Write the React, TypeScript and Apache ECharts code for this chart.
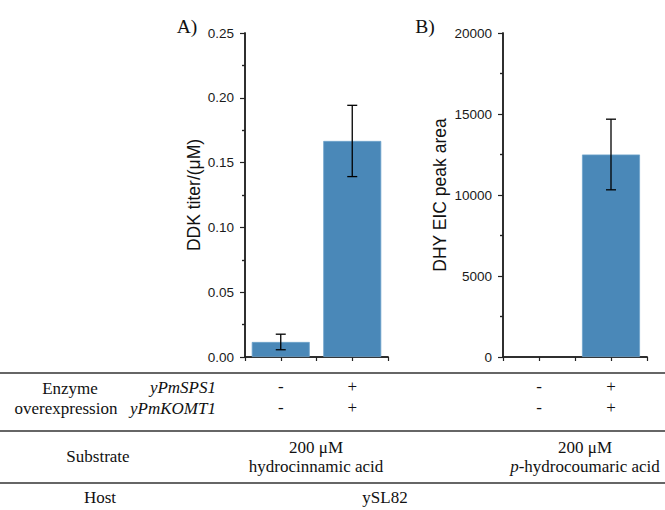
import React, { useEffect, useRef } from 'react';
import * as echarts from 'echarts';

// ---- data ----
const categories = ['control', 'yPmSPS1 + yPmKOMT1'];
const sps1Row = ['-', '+'];
const komt1Row = ['-', '+'];
const ddkTiter = [0.0116, 0.1667];
const ddkErr = [0.006, 0.0275];
const dhyArea = [0, 12500];
const dhyErr = [0, 2180];
const yTicksA = { min: 0, max: 0.25, interval: 0.05 };
const yTicksB = { min: 0, max: 20000, interval: 5000 };

const AXIS_COLOR = '#222';
const BAR_COLOR = '#4a88b8';
const SANS = 'Liberation Sans, Arial, sans-serif';
const SERIF = 'Liberation Serif, Times New Roman, serif';

const catPos = (i: number) => i + 0.5;

function buildAxes(grid: number, yName: string, ticks: { min: number; max: number; interval: number }, nameGap: number, fmt: (v: number) => string) {
  const line = { show: true, lineStyle: { color: AXIS_COLOR, width: 1.5 } };
  const xBottom = {
    type: 'value', gridIndex: grid, min: 0, max: categories.length, interval: 0.5,
    axisLine: line,
    axisTick: { show: true, length: 4, lineStyle: { color: AXIS_COLOR, width: 1.2 } },
    axisLabel: {
      show: true, margin: 19, fontFamily: SERIF, fontSize: 17, lineHeight: 21, color: '#111',
      formatter: (v: number) => {
        const i = categories.findIndex((_, k) => Math.abs(catPos(k) - v) < 1e-6);
        return i >= 0 ? `${sps1Row[i]}\n${komt1Row[i]}` : '';
      },
    },
    splitLine: { show: false },
  };
  const xTop = {
    type: 'value', gridIndex: grid, position: 'top', min: 0, max: categories.length,
    axisLine: line, axisTick: { show: false }, axisLabel: { show: false }, splitLine: { show: false },
  };
  const yLeft = {
    type: 'value', gridIndex: grid, ...ticks,
    axisLine: line,
    axisTick: { show: true, length: 5, lineStyle: { color: AXIS_COLOR, width: 1.2 } },
    minorTick: { show: true, splitNumber: 2, length: 3, lineStyle: { color: AXIS_COLOR, width: 1.2 } },
    axisLabel: { margin: 11, fontFamily: SANS, fontSize: 13.5, color: '#1a1a1a', formatter: fmt },
    splitLine: { show: false }, minorSplitLine: { show: false },
    name: yName, nameLocation: 'middle', nameGap,
    nameTextStyle: { fontFamily: SANS, fontSize: 17.5, color: '#111' },
  };
  const yRight = {
    type: 'value', gridIndex: grid, position: 'right', ...ticks,
    axisLine: line,
    axisTick: { show: false, inside: true },
    minorTick: { show: true, splitNumber: 2, length: 3, lineStyle: { color: AXIS_COLOR, width: 1.2 } },
    axisLabel: { show: false }, splitLine: { show: false }, minorSplitLine: { show: false },
  };
  return { x: [xBottom, xTop], y: [yLeft, yRight] };
}

function errorSeries(xAxisIndex: number, yAxisIndex: number, vals: number[], errs: number[]) {
  const data = vals
    .map((v, i) => [catPos(i), v - errs[i], v + errs[i], errs[i]])
    .filter((d) => d[3] > 0);
  return {
    type: 'custom', xAxisIndex, yAxisIndex, data, z: 5,
    encode: { x: 0, y: [1, 2] },
    renderItem: (_p: any, api: any) => {
      const x = api.value(0);
      const lo = api.coord([x, api.value(1)]);
      const hi = api.coord([x, api.value(2)]);
      const w = 5;
      const style = { stroke: '#000', lineWidth: 1.3 };
      return {
        type: 'group',
        children: [
          { type: 'line', shape: { x1: lo[0], y1: lo[1], x2: hi[0], y2: hi[1] }, style },
          { type: 'line', shape: { x1: hi[0] - w, y1: hi[1], x2: hi[0] + w, y2: hi[1] }, style },
          { type: 'line', shape: { x1: lo[0] - w, y1: lo[1], x2: lo[0] + w, y2: lo[1] }, style },
        ],
      };
    },
  };
}

export default function App() {
  const ref = useRef<HTMLDivElement>(null);
  useEffect(() => {
    document.body.style.margin = '0';
    if (!ref.current) return;
    const chart = echarts.init(ref.current, undefined, { renderer: 'svg' });
    const a = buildAxes(0, 'DDK titer/(μM)', yTicksA, 42, (v) => v.toFixed(2));
    const b = buildAxes(1, 'DHY EIC peak area', yTicksB, 54, (v) => String(v));
    const barCommon = { type: 'bar', barWidth: 58, itemStyle: { color: BAR_COLOR, borderColor: '#6fa3cc', borderWidth: 0.8 }, z: 2 };

    const txt = (x: number, y: number, text: string, extra: any = {}) => ({
      type: 'text', x, y,
      style: { text, fontFamily: SERIF, fontSize: 17, fill: '#111', align: 'center', verticalAlign: 'middle', ...extra },
    });
    const hline = (y: number) => ({
      type: 'line', shape: { x1: 0, y1: y, x2: 665, y2: y }, style: { stroke: '#333', lineWidth: 1.6 },
    });

    chart.setOption({
      animation: false,
      grid: [
        { left: 245, top: 33, width: 143, height: 324 },
        { left: 503, top: 33, width: 144, height: 324 },
      ],
      xAxis: [...a.x, ...b.x],
      yAxis: [...a.y, ...b.y],
      series: [
        { ...barCommon, xAxisIndex: 0, yAxisIndex: 0, data: ddkTiter.map((v, i) => [catPos(i), v]) },
        errorSeries(0, 0, ddkTiter, ddkErr),
        { ...barCommon, xAxisIndex: 2, yAxisIndex: 2, data: dhyArea.map((v, i) => [catPos(i), v]).filter((d) => d[1] > 0) },
        errorSeries(2, 2, dhyArea, dhyErr),
      ],
      graphic: [
        txt(187, 26, 'A)', { fontSize: 19.5 }),
        txt(425, 26, 'B)', { fontSize: 19.5 }),
        hline(373), hline(431), hline(483),
        txt(70, 388, 'Enzyme'),
        txt(66, 408, 'overexpression'),
        txt(216, 387, 'yPmSPS1', { fontStyle: 'italic', align: 'right' }),
        txt(216, 408, 'yPmKOMT1', { fontStyle: 'italic', align: 'right' }),
        txt(98, 456, 'Substrate'),
        txt(316, 447, '200 μM'),
        txt(316, 466, 'hydrocinnamic acid'),
        txt(585, 447, '200 μM'),
        {
          type: 'text', x: 585, y: 466,
          style: {
            text: '{i|p}-hydrocoumaric acid', fontFamily: SERIF, fontSize: 17, fill: '#111', align: 'center', verticalAlign: 'middle',
            rich: { i: { fontStyle: 'italic', fontFamily: SERIF, fontSize: 17, fill: '#111' } },
          },
        },
        txt(100, 497, 'Host'),
        txt(385, 497, 'ySL82'),
      ],
    });
    return () => chart.dispose();
  }, []);
  return <div ref={ref} style={{ width: 665, height: 510 }} />;
}
